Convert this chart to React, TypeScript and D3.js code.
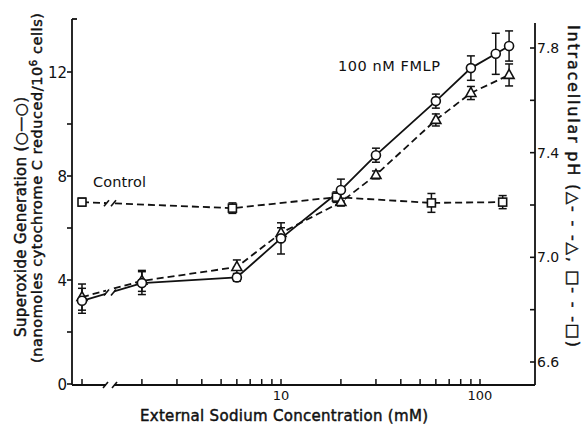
import React from "react";
import * as d3 from "d3";

const W = 583;
const H = 428;

// Superoxide generation with 100 nM FMLP (open circles, left axis)
const fmlpConc = [0, 2, 6, 10, 20, 30, 60, 90, 120, 140];
const superoxide = [3.2, 3.88, 4.1, 5.6, 7.46, 8.8, 10.88, 12.15, 12.7, 13.0];
const superoxideErr = [0.48, 0.44, 0.15, 0.6, 0.42, 0.27, 0.27, 0.47, 0.79, 0.58];

// Intracellular pH with 100 nM FMLP (triangles, right axis)
const phConc = [0, 2, 6, 10, 20, 30, 60, 90, 140];
const phFmlp = [6.848, 6.91, 6.963, 7.093, 7.211, 7.315, 7.525, 7.628, 7.697];
const phFmlpErr = [0.05, 0.04, 0.027, 0.02, 0.015, 0.015, 0.023, 0.025, 0.042];

// Intracellular pH, control (squares, right axis)
const controlConc = [0, 5.7, 19, 57, 130];
const phControl = [7.211, 7.188, 7.23, 7.208, 7.211];
const phControlErr = [0.015, 0.02, 0.02, 0.036, 0.025];

const leftTicks = [0, 2, 4, 6, 8, 10, 12];
const leftLabeled = [0, 4, 8, 12];
const rightTicks = [6.6, 6.8, 7.0, 7.2, 7.4, 7.6, 7.8];
const rightLabeled = [6.6, 7.0, 7.4, 7.8];
const xTicks = [2, 3, 4, 5, 6, 7, 8, 9, 10, 20, 30, 40, 50, 60, 70, 80, 90, 100];
const xLabeled = [10, 100];

// Na-free medium is drawn past the axis break, at the 1 mM position
const ZERO_AT = 1;

const FONT = "'DejaVu Sans', 'Open Sans', sans-serif";
const INK = "#111";

const AX_L = 72;
const AX_R = 535;
const AX_B = 385;
const AX_T = 19;
const BREAK_X = 110;

// semi-bold look for titles
const titleStyle = {
  fontFamily: FONT,
  fill: INK,
  stroke: INK,
  strokeWidth: 0.45,
};

export default function App() {
  const x = d3.scaleLog().domain([1, 100]).range([82, 480]);
  const xc = (c: number) => x(c === 0 ? ZERO_AT : c);
  const yL = d3.scaleLinear().domain([0, 14]).range([384, 20]);
  const yR = d3.scaleLinear().domain([6.6, 7.8]).range([362, 48]);

  const circPts = fmlpConc.map((c, i) => [xc(c), yL(superoxide[i])] as [number, number]);
  const triPts = phConc.map((c, i) => [xc(c), yR(phFmlp[i])] as [number, number]);
  const sqPts = controlConc.map((c, i) => [xc(c), yR(phControl[i])] as [number, number]);

  const line = d3.line();

  // break mark "//" drawn across a line segment at BREAK_X
  const breakMark = (pts: [number, number][], key: string) => {
    const [a, b] = pts;
    const t = (BREAK_X - a[0]) / (b[0] - a[0]);
    const yb = a[1] + t * (b[1] - a[1]);
    return (
      <g key={key}>
        <rect x={BREAK_X - 4} y={yb - 4} width={8} height={8} fill="white" />
        <line x1={BREAK_X - 6} y1={yb + 3} x2={BREAK_X - 1} y2={yb - 3} stroke={INK} strokeWidth={1.6} />
        <line x1={BREAK_X + 1} y1={yb + 3} x2={BREAK_X + 6} y2={yb - 3} stroke={INK} strokeWidth={1.6} />
      </g>
    );
  };

  const errBar = (cx: number, y1: number, y2: number, key: string) => (
    <g key={key} stroke={INK} strokeWidth={1.5}>
      <line x1={cx} x2={cx} y1={y1} y2={y2} />
      <line x1={cx - 4} x2={cx + 4} y1={y1} y2={y1} />
      <line x1={cx - 4} x2={cx + 4} y1={y2} y2={y2} />
    </g>
  );

  const triPath = (cx: number, cy: number, s: number) => {
    const h = s * 0.9;
    return `M${cx},${cy - h * 0.62}L${cx + s / 2},${cy + h * 0.38}L${cx - s / 2},${cy + h * 0.38}Z`;
  };

  return (
    <svg width={W} height={H} style={{ position: "absolute", left: 0, top: 0, background: "white" }}>
      <rect width={W} height={H} fill="white" />

      {/* axes frame */}
      <g stroke={INK} strokeWidth={1.8} fill="none">
        <line x1={AX_L} x2={AX_L} y1={AX_T} y2={AX_B} />
        <line x1={AX_L} x2={AX_L + 5} y1={AX_T} y2={AX_T} />
        <line x1={AX_R} x2={AX_R} y1={23} y2={AX_B} />
        <line x1={AX_L} x2={BREAK_X - 4} y1={AX_B} y2={AX_B} />
        <line x1={BREAK_X + 4} x2={AX_R} y1={AX_B} y2={AX_B} />
        <line x1={BREAK_X - 7} y1={AX_B + 3} x2={BREAK_X - 2} y2={AX_B - 3} strokeWidth={1.6} />
        <line x1={BREAK_X + 2} y1={AX_B + 3} x2={BREAK_X + 7} y2={AX_B - 3} strokeWidth={1.6} />
      </g>

      {/* left ticks */}
      <g stroke={INK} strokeWidth={1.6}>
        {leftTicks.map((t) => (
          <line key={t} x1={AX_L - 5} x2={AX_L} y1={yL(t)} y2={yL(t)} />
        ))}
      </g>
      <g fontFamily={FONT} fontSize={15} fill={INK} textAnchor="end">
        {leftLabeled.map((t) => (
          <text key={t} x={AX_L - 5} y={yL(t) + 5.5}>{t}</text>
        ))}
      </g>

      {/* right ticks */}
      <g stroke={INK} strokeWidth={1.6}>
        {rightTicks.map((t) => (
          <line key={t} x1={AX_R - 5} x2={AX_R} y1={yR(t)} y2={yR(t)} />
        ))}
      </g>
      <g fontFamily={FONT} fontSize={14} fill={INK} textAnchor="start">
        {rightLabeled.map((t) => (
          <text key={t} x={AX_R + 2} y={yR(t) + 5}>{t.toFixed(1)}</text>
        ))}
      </g>

      {/* bottom ticks */}
      <g stroke={INK} strokeWidth={1.5}>
        <line x1={xc(0)} x2={xc(0)} y1={AX_B - 6} y2={AX_B} />
        {xTicks.map((t) => (
          <line key={t} x1={x(t)} x2={x(t)} y1={AX_B - 6} y2={AX_B} />
        ))}
      </g>
      <g fontFamily={FONT} fontSize={13} fill={INK} textAnchor="middle">
        {xLabeled.map((t) => (
          <text key={t} x={x(t)} y={400}>{t}</text>
        ))}
      </g>

      {/* axis titles */}
      <text x={284} y={421} textAnchor="middle" fontSize={15} textLength={288} lengthAdjust="spacing" {...titleStyle}>
        External Sodium Concentration  (mM)
      </text>
      <text transform="translate(26,217) rotate(-90)" textAnchor="middle" fontSize={15} textLength={240} lengthAdjust="spacing" {...titleStyle}>
        Superoxide Generation  (○—○)
      </text>
      <text transform="translate(42,188) rotate(-90)" textAnchor="middle" fontSize={14.5} textLength={350} lengthAdjust="spacing" {...titleStyle}>
        (nanomoles cytochrome C reduced/10<tspan dy={-5} fontSize={10}>6</tspan><tspan dy={5}> cells)</tspan>
      </text>
      <text transform="translate(568,186) rotate(90)" textAnchor="middle" fontSize={16} textLength={322} lengthAdjust="spacing" {...titleStyle}>
        Intracellular pH (△- - -△,  □- - -□)
      </text>

      {/* annotations */}
      <text x={338} y={71} fontFamily={FONT} fontSize={14.5} fill={INK} textLength={102} lengthAdjust="spacing">100 nM  FMLP</text>
      <text x={93} y={187} fontFamily={FONT} fontSize={14.5} fill={INK} textLength={53} lengthAdjust="spacing">Control</text>

      {/* series lines */}
      <g fill="none" stroke={INK} strokeWidth={1.8}>
        <path d={line(sqPts) || ""} strokeDasharray="7,4" />
        <path d={line(triPts) || ""} strokeDasharray="7,4" />
        <path d={line(circPts) || ""} />
      </g>
      {breakMark(sqPts, "bs")}
      {breakMark(circPts, "bc")}

      {/* error bars */}
      {controlConc.map((c, i) =>
        errBar(xc(c), yR(phControl[i] + phControlErr[i]), yR(phControl[i] - phControlErr[i]), "es" + i)
      )}
      {phConc.map((c, i) =>
        errBar(xc(c), yR(phFmlp[i] + phFmlpErr[i]), yR(phFmlp[i] - phFmlpErr[i]), "et" + i)
      )}
      {fmlpConc.map((c, i) =>
        errBar(xc(c), yL(superoxide[i] + superoxideErr[i]), yL(superoxide[i] - superoxideErr[i]), "ec" + i)
      )}

      {/* markers */}
      <g fill="white" stroke={INK} strokeWidth={1.6}>
        {sqPts.map(([px, py], i) => (
          <rect key={"s" + i} x={px - 4} y={py - 4} width={8} height={8} />
        ))}
        {triPts.map(([px, py], i) => (
          <path key={"t" + i} d={triPath(px, py, 10)} />
        ))}
        {circPts.map(([px, py], i) => (
          <circle key={"c" + i} cx={px} cy={py} r={4.5} />
        ))}
      </g>
    </svg>
  );
}
